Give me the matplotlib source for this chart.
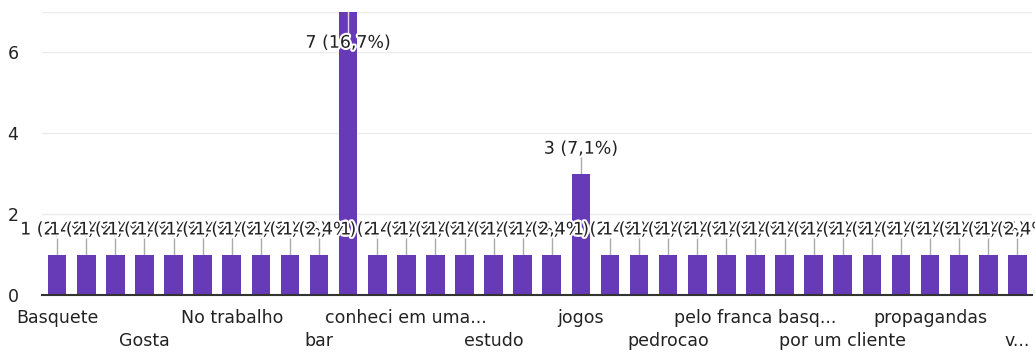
import matplotlib
matplotlib.use("Agg")
import matplotlib.pyplot as plt
import matplotlib.patheffects as pe
import numpy as np

# ---- data ----
categories = ["Basquete", "", "", "Gosta", "", "", "No trabalho", "", "", "bar",
              "", "", "conheci em uma...", "", "", "estudo", "", "", "jogos", "",
              "", "pedrocao", "", "", "pelo franca basq...", "", "", "por um cliente",
              "", "", "propagandas", "", "", "v..."]
values = [1, 1, 1, 1, 1, 1, 1, 1, 1, 1,
          7, 1, 1, 1, 1, 1, 1, 1, 3, 1,
          1, 1, 1, 1, 1, 1, 1, 1, 1, 1,
          1, 1, 1, 1]
total = sum(values)
yticks = [0, 2, 4, 6]

bar_color = "#673ab7"
text_color = "#222222"
grid_color = "#ebebeb"

plt.rcParams['font.family'] = ['DejaVu Sans']
fig = plt.figure(figsize=(10.35, 3.53), dpi=100)
ax = fig.add_axes([0.0406, 0.1643, 0.9564, 0.8017])

x = np.arange(len(values))
ax.bar(x, values, width=0.64, color=bar_color, zorder=2)

ax.set_xlim(-0.52, len(values) - 0.5)
ax.set_ylim(0, 7)

# grid
for gy in yticks[1:] + [7]:
    ax.axhline(gy, color=grid_color, lw=1.0, zorder=0)
for s in ["top", "right", "left"]:
    ax.spines[s].set_visible(False)
ax.spines["bottom"].set_color("#333333")
ax.spines["bottom"].set_linewidth(1.5)
ax.spines["bottom"].set_zorder(3)

ax.set_yticks(yticks)
ax.set_yticklabels([str(v) for v in yticks])
ax.tick_params(axis="y", length=0, pad=17, labelsize=12.5, labelcolor=text_color)

# x tick labels: every 3rd, alternating rows
tick_pos = [i for i in range(0, len(categories), 3)]
tick_lab = []
for k, i in enumerate(tick_pos):
    tick_lab.append(categories[i] if k % 2 == 0 else "\n" + categories[i])
ax.set_xticks(tick_pos)
ax.set_xticklabels(tick_lab, linespacing=1.4)
ax.tick_params(axis="x", length=0, pad=10, labelsize=12.5, labelcolor=text_color)

# data labels with leader lines
def fmt(v):
    pct = v / total * 100
    return f"{v} ({pct:.1f}%)".replace(".", ",")

halo = [pe.withStroke(linewidth=3, foreground="white")]
for xi, v in zip(x, values):
    if v >= 7:
        ly = v - 0.76
        ax.plot([xi, xi], [v, ly + 0.2], color="#ffffff", lw=1, alpha=0.8, zorder=3)
    else:
        ly = v + 0.62
        ax.plot([xi, xi], [v, ly - 0.2], color="#aaaaaa", lw=1, zorder=1)
    ax.text(xi, ly, fmt(v), ha="center", va="center", fontsize=12.5,
            color=text_color, path_effects=halo, zorder=4)

fig.savefig("out.png", dpi=100, facecolor="white")
